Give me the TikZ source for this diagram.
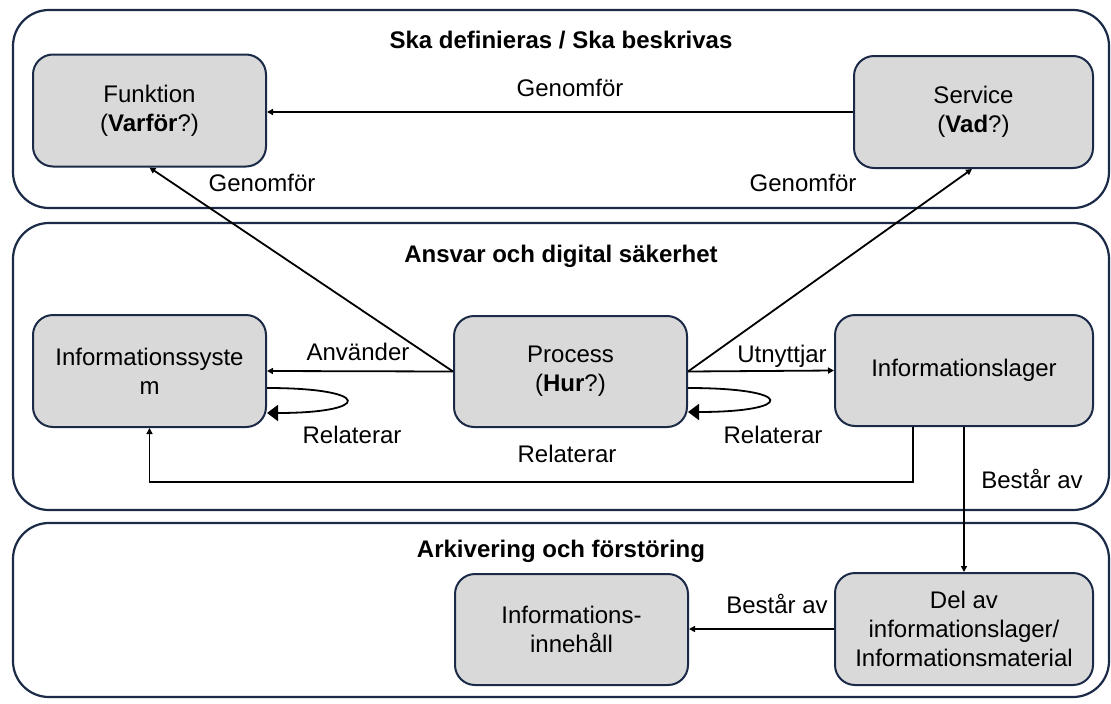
\documentclass[tikz,border=0pt]{standalone}
\usepackage{fontspec}
\setmainfont{Liberation Sans}
\usetikzlibrary{arrows.meta,calc}
\definecolor{navy}{HTML}{1B2A47}
\definecolor{boxgray}{HTML}{D9D9D9}
\begin{document}
\begin{tikzpicture}[x=1pt,y=-1pt,
  layer/.style={draw=navy,line width=2.2pt,rounded corners=36pt},
  box/.style={draw=navy,fill=boxgray,line width=2pt,rounded corners=20pt,align=center,inner sep=0pt,font=\fontsize{24}{29}\selectfont},
  lbl/.style={font=\fontsize{24}{29}\selectfont,inner sep=0pt,anchor=base},
  ttl/.style={font=\fontsize{24}{29}\selectfont\bfseries,inner sep=0pt,anchor=base},
  arr/.style={line width=1.8pt,-{Triangle[length=6pt,width=6pt]}},
  selfarr/.style={line width=1.8pt,-{Triangle[length=11pt,width=16pt]}}]
\useasboundingbox (0,0) rectangle (1111,704);
% layers
\draw[layer] (13,10) rectangle (1109,208);
\draw[layer] (13,223) rectangle (1109,510);
\draw[layer] (13,523) rectangle (1109,697);
\node[ttl] (t1) at (561,48) {Ska definieras / Ska beskrivas};
\node[ttl] (t2) at (561,262) {Ansvar och digital säkerhet};
\node[ttl] (t3) at (561,557) {Arkivering och förstöring};
% boxes
\node[box,minimum width=233pt,minimum height=112pt] (fun) at (149.5,110.5) {Funktion\\(\textbf{Varför}?)};
\node[box,minimum width=239pt,minimum height=112pt] (svc) at (973.5,112) {Service\\(\textbf{Vad}?)};
\node[box,minimum width=233pt,minimum height=112pt] (is) at (149.5,371) {Informationssyste\\m};
\node[box,minimum width=233pt,minimum height=111pt] (proc) at (570.5,371.5) {Process\\(\textbf{Hur}?)};
\node[box,minimum width=258pt,minimum height=111pt] (il) at (964,370.5) {Informationslager};
\node[box,minimum width=233pt,minimum height=111pt] (inn) at (571.5,629.5) {Informations-\\innehåll};
\node[box,minimum width=258pt,minimum height=112pt] (del) at (964,629) {Del av\\informationslager/\\Informationsmaterial};
% connectors
\draw[arr] (svc.west) -- (svc.west -| fun.east);
\draw[arr] (proc.west) -- (fun.south);
\draw[arr] (proc.east) -- ([xshift=-1.5pt]svc.south);
\draw[arr] (proc.west) -- (is.east);
\draw[arr] (proc.east) -- (il.west);
\draw[arr] ([xshift=-51pt]il.south) -- ++(0,55) -| (is.south);
\draw[arr] (il.south) -- (del.north);
\draw[arr] (del.west) -- (del.west -| inn.east);
\draw[selfarr] ([yshift=-17pt]is.east) .. controls +(106,0) and +(106,0) .. ([yshift=-42pt]is.east);
\draw[selfarr] ([yshift=-16.5pt]proc.east) .. controls +(108,0) and +(108,0) .. ([yshift=-40.5pt]proc.east);
% labels
\node[lbl] (l1) at (570,96.5) {Genomför};
\node[lbl] (l2) at (262,191.5) {Genomför};
\node[lbl] (l3) at (803,191.5) {Genomför};
\node[lbl] (l4) at (358,360) {Använder};
\node[lbl] (l5) at (782,362) {Utnyttjar};
\node[lbl] (l6) at (352,443) {Relaterar};
\node[lbl] (l7) at (773,443) {Relaterar};
\node[lbl] (l8) at (567,462) {Relaterar};
\node[lbl] (l9) at (1032,488) {Består av};
\node[lbl] (l10) at (777,613) {Består av};
\end{tikzpicture}
\end{document}
